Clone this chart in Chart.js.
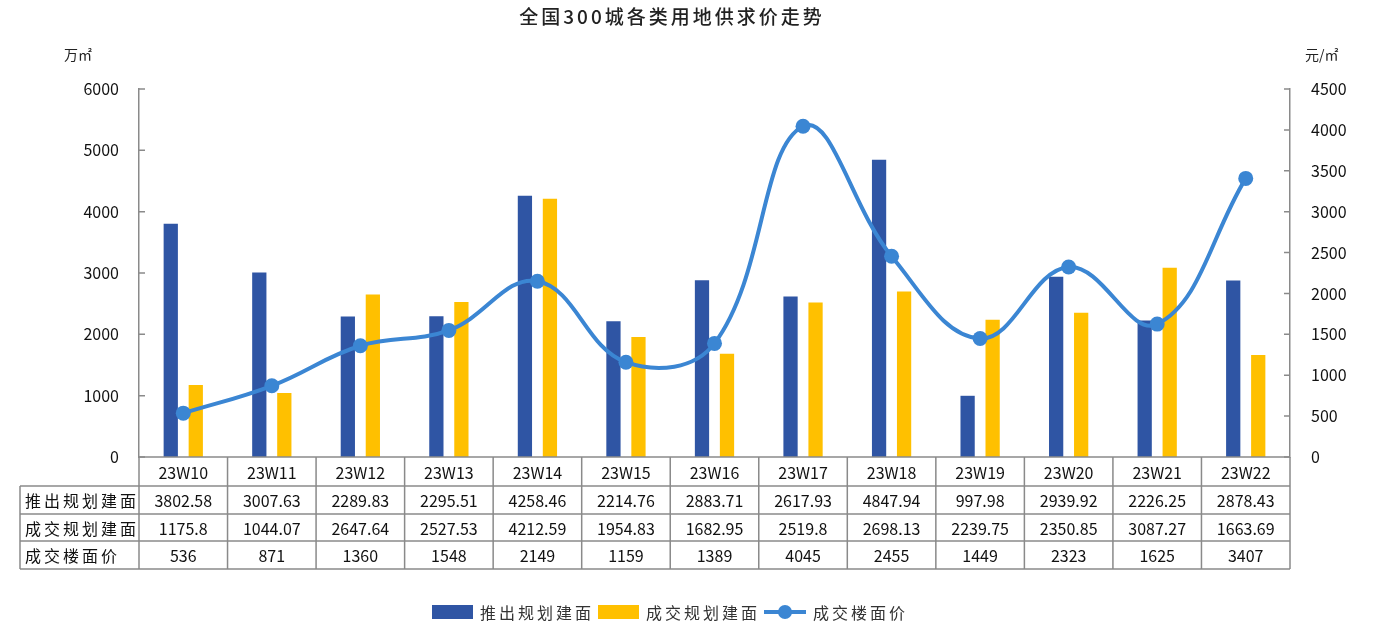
<!DOCTYPE html>
<html>
<head>
<meta charset="utf-8">
<script src="https://cdn.jsdelivr.net/npm/chart.js@4"></script>
<style>
  body { margin: 0; background: #fff; font-family: "Noto Sans CJK SC", "DejaVu Sans", sans-serif; }
  #wrap { position: relative; width: 1373px; height: 630px; }
  #title { position: absolute; top: 2px; left: 0; width: 1344px; text-align: center; font-size: 19px; font-weight: 500; letter-spacing: 3px; color: #222; }
  .unit { position: absolute; top: 44px; font-size: 14px; color: #222; }
  #legend { position: absolute; top: 600px; left: 432px; display: flex; align-items: center; font-size: 16px; letter-spacing: 3px; color: #333; white-space: nowrap; }
  .box { display: inline-block; width: 41px; height: 14px; margin-right: 7px; }
  .item { display: flex; align-items: center; margin-right: 4px; }
  .lineKey { position: relative; width: 42px; height: 14px; margin-right: 7px; }
  .lineKey::before { content: ""; position: absolute; left: 0; right: 0; top: 5px; height: 4px; background: #3B86D3; }
  .lineKey::after { content: ""; position: absolute; left: 14px; top: 0; width: 14px; height: 14px; border-radius: 50%; background: #3B86D3; }
</style>
</head>
<body>
<div id="wrap">
  <canvas id="chart"></canvas>
  <div id="title">全国300城各类用地供求价走势</div>
  <div class="unit" style="left:64px">万㎡</div>
  <div class="unit" style="left:1305px">元/㎡</div>
  <div id="legend">
    <div class="item"><span class="box" style="background:#2F55A4"></span>推出规划建面</div>
    <div class="item"><span class="box" style="background:#FFC000"></span>成交规划建面</div>
    <div class="item"><span class="lineKey"></span>成交楼面价</div>
  </div>
</div>
<script>
const weeks = ['23W10', '23W11', '23W12', '23W13', '23W14', '23W15', '23W16', '23W17', '23W18', '23W19', '23W20', '23W21', '23W22'];
const supplyArea = [3802.58, 3007.63, 2289.83, 2295.51, 4258.46, 2214.76, 2883.71, 2617.93, 4847.94, 997.98, 2939.92, 2226.25, 2878.43];
const dealArea = [1175.8, 1044.07, 2647.64, 2527.53, 4212.59, 1954.83, 1682.95, 2519.8, 2698.13, 2239.75, 2350.85, 3087.27, 1663.69];
const dealPrice = [536, 871, 1360, 1548, 2149, 1159, 1389, 4045, 2455, 1449, 2323, 1625, 3407];
const rowNames = ['推出规划建面', '成交规划建面', '成交楼面价'];

const GRAY = '#8a8a8a';
const FONT = '"Noto Sans CJK SC", "DejaVu Sans", sans-serif';

// Data table under the plot + inside tick marks
const tablePlugin = {
  id: 'dataTable',
  afterDraw(chart) {
    const ctx = chart.ctx;
    const x = chart.scales.x;
    const area = chart.chartArea;
    const rows = [area.bottom, 486, 514, 541, 569];
    const tableLeft = 20;
    const half = (x.getPixelForValue(1) - x.getPixelForValue(0)) / 2;
    const edges = weeks.map((w, i) => x.getPixelForValue(i) - half);
    edges.push(x.getPixelForValue(weeks.length - 1) + half);

    ctx.save();
    ctx.strokeStyle = GRAY;
    ctx.lineWidth = 1.5;
    ctx.beginPath();
    // horizontal lines
    ctx.moveTo(edges[0], rows[0]); ctx.lineTo(edges[edges.length - 1], rows[0]);
    for (let r = 1; r < rows.length; r++) {
      ctx.moveTo(tableLeft, rows[r]); ctx.lineTo(edges[edges.length - 1], rows[r]);
    }
    // vertical lines
    ctx.moveTo(tableLeft, rows[1]); ctx.lineTo(tableLeft, rows[4]);
    edges.forEach(e => { ctx.moveTo(e, rows[0]); ctx.lineTo(e, rows[4]); });
    ctx.stroke();

    // inside tick marks on both y axes
    ctx.beginPath();
    const yl = chart.scales.y, yr = chart.scales.y1;
    yl.ticks.forEach(t => {
      const py = yl.getPixelForValue(t.value);
      ctx.moveTo(area.left, py); ctx.lineTo(area.left + 6, py);
    });
    yr.ticks.forEach(t => {
      const py = yr.getPixelForValue(t.value);
      ctx.moveTo(area.right, py); ctx.lineTo(area.right - 6, py);
    });
    ctx.stroke();

    ctx.fillStyle = '#111';
    ctx.font = '16px ' + FONT;
    ctx.textBaseline = 'middle';
    ctx.textAlign = 'center';
    const series = [supplyArea, dealArea, dealPrice];
    weeks.forEach((w, i) => {
      const cx = (edges[i] + edges[i + 1]) / 2;
      ctx.fillText(w, cx, (rows[0] + rows[1]) / 2 + 1);
      series.forEach((s, r) => {
        ctx.fillText(String(s[i]), cx, (rows[r + 1] + rows[r + 2]) / 2 + 1);
      });
    });
    ctx.textAlign = 'left';
    rowNames.forEach((n, r) => {
      ctx.letterSpacing = '3px';
      ctx.fillText(n, tableLeft + 5, (rows[r + 1] + rows[r + 2]) / 2 + 1);
    });
    ctx.restore();
  }
};

const plain = v => String(v);

const ctx = document.getElementById('chart').getContext('2d');
new Chart(ctx, {
  data: {
    labels: weeks,
    datasets: [
      {
        type: 'line',
        label: '成交楼面价',
        data: dealPrice,
        yAxisID: 'y1',
        borderColor: '#3B86D3',
        backgroundColor: '#3B86D3',
        borderWidth: 4,
        tension: 0.4,
        pointRadius: 7.5,
        pointHoverRadius: 7.5,
        pointBackgroundColor: '#3B86D3',
        pointBorderWidth: 0,
        order: 0
      },
      {
        type: 'bar',
        label: '推出规划建面',
        data: supplyArea,
        yAxisID: 'y',
        backgroundColor: '#2F55A4',
        categoryPercentage: 0.565,
        barPercentage: 0.57,
        order: 1
      },
      {
        type: 'bar',
        label: '成交规划建面',
        data: dealArea,
        yAxisID: 'y',
        backgroundColor: '#FFC000',
        categoryPercentage: 0.565,
        barPercentage: 0.57,
        order: 1
      }
    ]
  },
  options: {
    responsive: true,
    maintainAspectRatio: false,
    animation: false,
    layout: { padding: { top: 89, bottom: 173, left: 0, right: 0 } },
    plugins: {
      legend: { display: false },
      tooltip: { enabled: false }
    },
    scales: {
      x: { display: false, offset: true },
      y: {
        position: 'left',
        min: 0, max: 6000,
        ticks: { stepSize: 1000, callback: plain, color: '#111', font: { size: 16, family: FONT }, padding: 12 },
        grid: { display: false },
        border: { display: true, color: GRAY, width: 1.5 },
        afterFit(s) { s.width = 139; }
      },
      y1: {
        position: 'right',
        min: 0, max: 4500,
        ticks: { stepSize: 500, callback: plain, color: '#111', font: { size: 16, family: FONT }, padding: 13 },
        grid: { display: false },
        border: { display: true, color: GRAY, width: 1.5 },
        afterFit(s) { s.width = 83; }
      }
    }
  },
  plugins: [tablePlugin]
});
</script>
</body>
</html>
